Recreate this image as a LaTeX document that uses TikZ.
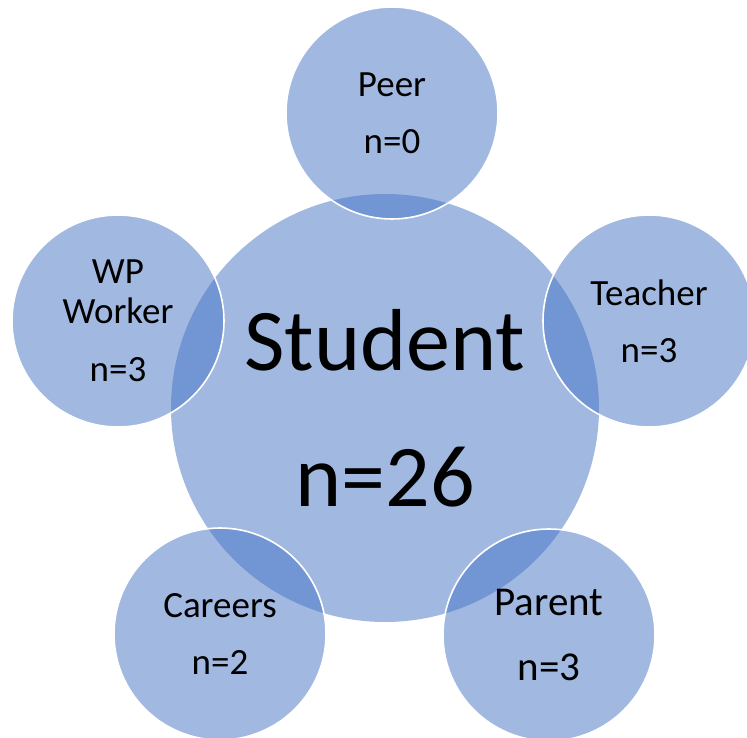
\documentclass[tikz,border=0pt]{standalone}
\usepackage{fontspec}
\setmainfont{Carlito}
\definecolor{accent}{HTML}{4472C4}
\begin{document}
\begin{tikzpicture}[x=1pt,y=-1pt,
  bubble/.style={circle, fill=accent, fill opacity=0.5, text opacity=1,
    inner sep=0pt, align=center, text=black},
  outer/.style={bubble, minimum size=212pt, draw=white, line width=1.6pt,
    font=\fontsize{37}{40}\selectfont},
  hub/.style={bubble, minimum size=428pt,
    font=\fontsize{88}{106}\selectfont}]
  \useasboundingbox (0,0) rectangle (747,738);
  % central circle
  \node[hub] (student) at (385,408) {Student\\[30pt]n=26};
  % satellites, drawn over the hub
  \node[outer] (peer) at (392,113) {Peer\\[17pt]n=0};
  \node[outer] (teacher) at (649,321) {Teacher\\[17pt]n=3};
  \node[outer] (wp) at (118,321) {WP\\Worker\\[18pt]n=3};
  \node[outer] (careers) at (220,634) {Careers\\[17pt]n=2};
  \node[outer, font=\fontsize{41}{44}\selectfont] (parent) at (549,635)
    {Parent\\[21pt]n=3};
\end{tikzpicture}
\end{document}
